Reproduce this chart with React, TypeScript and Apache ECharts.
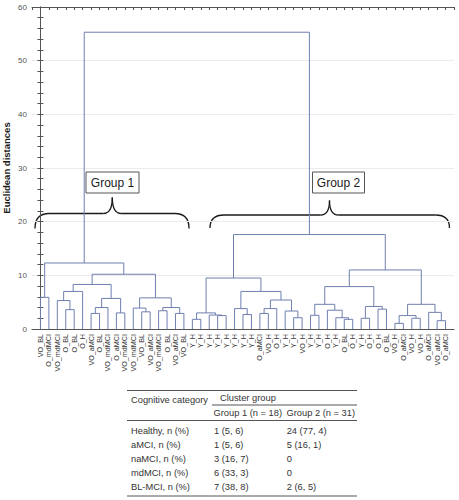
import React, { useEffect, useRef } from 'react';
import * as echarts from 'echarts';

// ---------- data ----------
const leafLabels: string[] = [
  'VO_BL', 'O_mdMCI', 'VO_mdMCI', 'O_BL', 'O_BL', 'O_H', 'VO_aMCI', 'O_BL', 'VO_mdMCI',
  'O_aMCI', 'VO_mdMCI', 'VO_mdMCI', 'VO_BL', 'VO_aMCI', 'VO_mdMCI', 'O_BL', 'VO_aMCI', 'VO_BL',
  'Y_H', 'Y_H', 'Y_H', 'Y_H', 'Y_H', 'Y_H', 'Y_H', 'Y_H', 'O_aMCI', 'VO_H', 'O_H', 'Y_H',
  'Y_H', 'VO_H', 'Y_H', 'Y_H', 'O_H', 'Y_H', 'O_BL', 'O_H', 'Y_H', 'O_H', 'O_H', 'O_BL',
  'VO_H', 'O_aMCI', 'VO_H', 'VO_H', 'O_aMCI', 'VO_aMCI', 'O_aMCI',
];

// merges: [left node, right node]; nodes 0..48 are leaves, 49+k is merge k
const mergePairs: [number, number][] = [
  [0, 1], [3, 4], [2, 50], [51, 5], [6, 7], [53, 8], [9, 10], [54, 55], [52, 56],
  [12, 13], [11, 58], [14, 15], [16, 17], [60, 61], [59, 62], [57, 63], [49, 64],
  [18, 19], [21, 22], [20, 67], [66, 68], [24, 25], [23, 70], [26, 27], [72, 28],
  [30, 31], [29, 74], [73, 75], [71, 76], [69, 77],
  [32, 33], [36, 37], [35, 80], [34, 81], [79, 82], [38, 39], [40, 41], [84, 85], [83, 86],
  [42, 43], [44, 45], [88, 89], [47, 48], [46, 91], [90, 92], [87, 93], [78, 94], [65, 95],
];
const mergeHeights: number[] = [
  5.9, 3.6, 5.3, 7.0, 2.9, 4.0, 3.0, 5.7, 8.3,
  3.2, 3.9, 3.4, 2.9, 4.0, 5.8, 10.2, 12.3,
  1.8, 2.5, 2.6, 3.0, 2.7, 3.8, 2.9, 3.8,
  2.1, 3.35, 5.4, 7.0, 9.5,
  2.55, 1.8, 2.1, 3.5, 4.6, 2.0, 3.7, 4.2, 7.9,
  1.05, 2.0, 2.5, 1.55, 3.1, 4.6, 11.0, 17.6, 55.3,
];

const yTicksMax = 60;
const yTickStep = 10;

const groupLabels = ['Group 1', 'Group 2'];

const tableHeader = ['Cognitive category', 'Cluster group', 'Group 1 (n = 18)', 'Group 2 (n = 31)'];
const tableCategories = ['Healthy, n (%)', 'aMCI, n (%)', 'naMCI, n (%)', 'mdMCI, n (%)', 'BL-MCI, n (%)'];
const tableGroup1 = ['1 (5, 6)', '1 (5, 6)', '3 (16, 7)', '6 (33, 3)', '7 (38, 8)'];
const tableGroup2 = ['24 (77, 4)', '5 (16, 1)', '0', '0', '2 (6, 5)'];

// ---------- styles ----------
const FONT = '"Liberation Sans", Arial, Helvetica, sans-serif';
const LINE = '#6f7fb0';
const FRAME = '#555';

function brace(xL: number, xTip: number, xR: number, yEnd: number, yBar: number, yTip: number) {
  const r = 14;
  const t = 9;
  const style = { stroke: '#1a1a1a', lineWidth: 1.3, fill: null };
  return {
    type: 'group',
    children: [
      { type: 'bezierCurve', shape: { x1: xL, y1: yEnd, cpx1: xL, cpy1: yBar, x2: xL + r, y2: yBar }, style },
      { type: 'line', shape: { x1: xL + r, y1: yBar, x2: xTip - t, y2: yBar }, style },
      { type: 'bezierCurve', shape: { x1: xTip - t, y1: yBar, cpx1: xTip, cpy1: yBar, x2: xTip, y2: yTip }, style },
      { type: 'bezierCurve', shape: { x1: xTip, y1: yTip, cpx1: xTip, cpy1: yBar, x2: xTip + t, y2: yBar }, style },
      { type: 'line', shape: { x1: xTip + t, y1: yBar, x2: xR - r, y2: yBar }, style },
      { type: 'bezierCurve', shape: { x1: xR - r, y1: yBar, cpx1: xR, cpy1: yBar, x2: xR, y2: yEnd }, style },
    ],
  };
}

function labelBox(x: number, y: number, w: number, h: number, text: string) {
  return {
    type: 'group',
    children: [
      { type: 'rect', shape: { x, y, width: w, height: h }, style: { fill: '#fff', stroke: '#555', lineWidth: 1 } },
      {
        type: 'text',
        x: x + w / 2,
        y: y + h / 2 + 0.5,
        style: { text, fontSize: 12, fontFamily: FONT, fill: '#1a1a1a', align: 'center', verticalAlign: 'middle' },
      },
    ],
  };
}

export default function App() {
  const ref = useRef<HTMLDivElement>(null);

  useEffect(() => {
    document.body.style.margin = '0';
    if (!ref.current) return;
    const chart = echarts.init(ref.current, null, { renderer: 'svg' });

    // dendrogram layout from the merge list
    const nodeX: number[] = leafLabels.map((_, i) => i);
    const nodeH: number[] = leafLabels.map(() => 0);
    const segData = mergePairs.map(([l, r], k) => {
      const h = mergeHeights[k];
      const row = [nodeX[l], nodeH[l], nodeX[r], nodeH[r], h];
      nodeX.push((nodeX[l] + nodeX[r]) / 2);
      nodeH.push(h);
      return row;
    });

    const tickStyle = { color: FRAME, width: 1 };
    const txt = (text: string, x: number, y: number) => ({
      type: 'text',
      x,
      y,
      style: { text, fontSize: 9.3, fontFamily: FONT, fill: '#333', align: 'left', verticalAlign: 'middle' },
    });
    const rule = (x1: number, x2: number, y: number) => ({
      type: 'line',
      shape: { x1, y1: y, x2, y2: y },
      style: { stroke: '#555', lineWidth: 1 },
    });

    const rowY0 = 430.7;
    const rowStep = 14;
    const tableEls: any[] = [
      rule(127, 357, 390.5),
      rule(212, 357, 405),
      rule(127, 357, 420.5),
      rule(127, 357, 496),
      txt(tableHeader[0], 131, 400),
      txt(tableHeader[1], 220, 397.5),
      txt(tableHeader[2], 213.5, 413),
      txt(tableHeader[3], 286.5, 413),
    ];
    tableCategories.forEach((c, i) => {
      const y = rowY0 + i * rowStep;
      tableEls.push(txt(c, 131, y));
      tableEls.push(txt(tableGroup1[i], 214, y));
      tableEls.push(txt(tableGroup2[i], 286.7, y));
    });

    chart.setOption({
      animation: false,
      textStyle: { fontFamily: FONT },
      grid: { left: 32, right: 5, top: 7, bottom: 171, containLabel: false, outerBoundsMode: 'none' },
      xAxis: [
        {
          type: 'value',
          position: 'bottom',
          min: -1,
          max: leafLabels.length,
          interval: 1,
          axisLine: { show: true, onZero: false, lineStyle: tickStyle },
          axisTick: { show: false },
          splitLine: { show: false },
          axisLabel: {
            rotate: 90,
            fontSize: 7.2,
            color: '#333',
            margin: 5,
            fontFamily: FONT,
            showMinLabel: true,
            showMaxLabel: true,
            formatter: (v: number) => leafLabels[v] ?? '',
          },
        },
        {
          type: 'value',
          position: 'top',
          min: -1,
          max: leafLabels.length,
          interval: 1,
          axisLine: { show: true, onZero: false, lineStyle: tickStyle },
          axisTick: { show: true, inside: true, length: 3, lineStyle: tickStyle },
          axisLabel: { show: false },
          splitLine: { show: false },
        },
      ],
      yAxis: [
        {
          type: 'value',
          position: 'left',
          min: 0,
          max: yTicksMax,
          interval: yTickStep,
          name: 'Euclidean distances',
          nameLocation: 'middle',
          nameGap: 20.5,
          nameMoveOverlap: false,
          nameTextStyle: { fontWeight: 'bold', fontSize: 9.5, color: '#1a1a1a', fontFamily: FONT },
          axisLine: { show: true, lineStyle: tickStyle },
          axisTick: { show: true, inside: true, length: 3, lineStyle: tickStyle },
          minorTick: { show: true, splitNumber: 5, length: 3, lineStyle: tickStyle },
          axisLabel: { fontSize: 8, color: '#555', margin: 5, fontFamily: FONT },
          splitLine: { show: true, lineStyle: { color: '#ebebeb', width: 1 } },
        },
        {
          type: 'value',
          position: 'right',
          min: 0,
          max: yTicksMax,
          interval: yTickStep,
          axisLine: { show: true, lineStyle: tickStyle },
          axisTick: { show: true, inside: true, length: 3, lineStyle: tickStyle },
          minorTick: { show: true, splitNumber: 5, length: 3, lineStyle: tickStyle },
          axisLabel: { show: false },
          splitLine: { show: false },
        },
      ],
      series: [
        {
          type: 'custom',
          xAxisIndex: 0,
          yAxisIndex: 0,
          silent: true,
          data: segData,
          encode: { x: [0, 2], y: [1, 3, 4] },
          renderItem: (_params: any, api: any) => {
            const p1 = api.coord([api.value(0), api.value(1)]);
            const p2 = api.coord([api.value(0), api.value(4)]);
            const p3 = api.coord([api.value(2), api.value(4)]);
            const p4 = api.coord([api.value(2), api.value(3)]);
            return {
              type: 'polyline',
              shape: { points: [p1, p2, p3, p4] },
              style: { stroke: LINE, fill: null, lineWidth: 1 },
            };
          },
          z: 3,
        },
      ],
      graphic: [
        brace(35, 112.3, 189, 228.5, 213.5, 197.5),
        brace(210, 329.5, 449.5, 228, 215, 200.5),
        labelBox(86, 172, 53, 21, groupLabels[0]),
        labelBox(312.5, 172, 52, 21, groupLabels[1]),
        ...tableEls,
      ],
    });

    return () => {
      chart.dispose();
    };
  }, []);

  return <div ref={ref} style={{ width: 459, height: 500 }} />;
}
